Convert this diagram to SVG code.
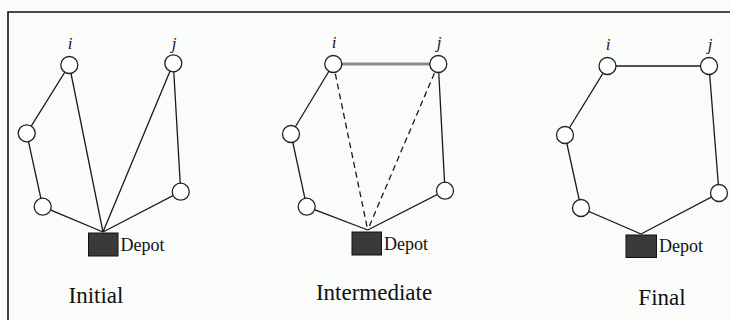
<svg xmlns="http://www.w3.org/2000/svg" width="730" height="320" viewBox="0 0 730 320">
<style>
.bg{fill:#fafcfa}
.frame{fill:none;stroke:#111;stroke-width:1.6}
.node{fill:#fff;stroke:#222;stroke-width:1.3}
.e{stroke:#1a1a1a;stroke-width:1.3;fill:none}
.d{stroke:#1a1a1a;stroke-width:1.3;fill:none;stroke-dasharray:6,4}
.g{stroke:#8a8a8a;stroke-width:3.2;fill:none}
.depot{fill:#3a3a3a;stroke:#111;stroke-width:1}
.lbl{font-family:"Liberation Serif",serif;font-size:18px;fill:#111}
.it{font-family:"Liberation Serif",serif;font-size:17px;font-style:italic;fill:#222}
.title{font-family:"Liberation Serif",serif;font-size:23px;fill:#111}
</style>
<rect class="bg" x="0" y="0" width="730" height="320"/>
<path class="frame" d="M8,320 V12 H730"/>

<g id="connectors">
  <!-- Initial -->
  <polyline class="e" points="103,232 42.7,206.7 26.7,133.3 69.3,65 103,232"/>
  <polyline class="e" points="103,232 173.3,63.3 180.7,191.7 103,232"/>
  <!-- Intermediate -->
  <polyline class="e" points="367.7,230 306.7,206.7 291,134 333.3,64"/>
  <polyline class="e" points="438.3,64 445,190.7 367.7,230"/>
  <line class="d" x1="333.3" y1="64" x2="367.7" y2="230"/>
  <line class="d" x1="438.3" y1="64" x2="367.7" y2="230"/>
  <line class="g" x1="333.3" y1="64" x2="438.3" y2="64"/>
  <!-- Final -->
  <polyline class="e" points="641,234 581,208 565,135 607.5,66 709,66 719,193 641,234"/>
</g>

<g id="initial">
  <g id="n1-i"><circle class="node" cx="69.3" cy="65" r="8.5"/><text class="it" x="70" y="49" text-anchor="middle">i</text></g>
  <g id="n1-j"><circle class="node" cx="173.3" cy="63.3" r="8.5"/><text class="it" x="174" y="49" text-anchor="middle">j</text></g>
  <g id="n1-a"><circle class="node" cx="26.7" cy="133.3" r="8.5"/></g>
  <g id="n1-b"><circle class="node" cx="42.7" cy="206.7" r="8.5"/></g>
  <g id="n1-c"><circle class="node" cx="180.7" cy="191.7" r="8.5"/></g>
  <g id="depot1"><rect class="depot" x="88.5" y="233" width="29.5" height="23"/><text class="lbl" x="120.5" y="251">Depot</text></g>
  <text class="title" x="96" y="303" text-anchor="middle">Initial</text>
</g>

<g id="intermediate">
  <g id="n2-i"><circle class="node" cx="333.3" cy="64" r="8.5"/><text class="it" x="334" y="48" text-anchor="middle">i</text></g>
  <g id="n2-j"><circle class="node" cx="438.3" cy="64" r="8.5"/><text class="it" x="439" y="48" text-anchor="middle">j</text></g>
  <g id="n2-a"><circle class="node" cx="291" cy="134" r="8.5"/></g>
  <g id="n2-b"><circle class="node" cx="306.7" cy="206.7" r="8.5"/></g>
  <g id="n2-c"><circle class="node" cx="445" cy="190.7" r="8.5"/></g>
  <g id="depot2"><rect class="depot" x="352" y="232" width="29.5" height="23"/><text class="lbl" x="384" y="250">Depot</text></g>
  <text class="title" x="374" y="300" text-anchor="middle">Intermediate</text>
</g>

<g id="final">
  <g id="n3-i"><circle class="node" cx="607.5" cy="66" r="8.5"/><text class="it" x="608" y="50" text-anchor="middle">i</text></g>
  <g id="n3-j"><circle class="node" cx="709" cy="66" r="8.5"/><text class="it" x="710" y="50" text-anchor="middle">j</text></g>
  <g id="n3-a"><circle class="node" cx="565" cy="135" r="8.5"/></g>
  <g id="n3-b"><circle class="node" cx="581" cy="208" r="8.5"/></g>
  <g id="n3-c"><circle class="node" cx="719" cy="193" r="8.5"/></g>
  <g id="depot3"><rect class="depot" x="626" y="235" width="30.5" height="22.5"/><text class="lbl" x="659" y="252">Depot</text></g>
  <text class="title" x="662" y="305" text-anchor="middle">Final</text>
</g>
</svg>
